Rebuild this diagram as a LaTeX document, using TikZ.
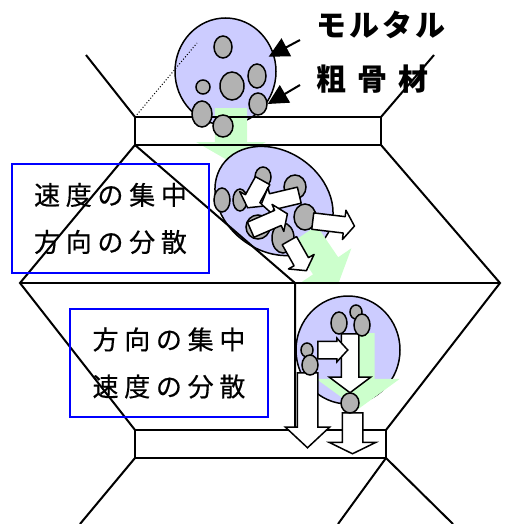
\documentclass[tikz,border=0pt]{standalone}
\usepackage{fontspec}
\usetikzlibrary{shapes.geometric,shapes.arrows,arrows.meta}
\newfontfamily\notefont{Noto Sans CJK JP}[LetterSpace=22,FakeBold=0.5]
\newfontfamily\tagfont{Noto Sans CJK JP}[LetterSpace=10]
\newfontfamily\tagwidefont{Noto Sans CJK JP}[LetterSpace=38]
\definecolor{mixfill}{RGB}{204,204,255}
\definecolor{grainfill}{RGB}{178,178,178}
\definecolor{flowgreen}{RGB}{204,255,204}
\begin{document}
\begin{tikzpicture}[x=1pt,y=-1pt]
		\tikzstyle{wall}=[line width=2pt]
		\tikzstyle{mix}=[draw,fill=mixfill,line width=1.5pt,ellipse,inner sep=0pt]
		\tikzstyle{grain}=[draw,fill=grainfill,line width=1.5pt,ellipse,inner sep=0pt]
		\tikzstyle{flow}=[single arrow,anchor=tail,inner sep=0pt,single arrow head indent=0pt]
		\tikzstyle{greenflow}=[flow,fill=flowgreen]
		\tikzstyle{whiteflow}=[flow,draw,fill=white,line width=1.5pt,line join=round,inner ysep=7.5pt,single arrow head extend=6.5pt,single arrow tip angle=110]
		\tikzstyle{downflow}=[flow,draw,fill=white,line width=1.5pt,rotate=-90]
		\tikzstyle{pointer}=[line width=2pt,-{Triangle[length=20pt,width=20pt]}]
		\tikzstyle{notebox}=[draw=blue,line width=1.5pt,align=center,inner sep=0pt,font=\notefont\fontsize{26pt}{47pt}\selectfont]
		\tikzstyle{tag}=[anchor=west,inner sep=0pt]

		\useasboundingbox (0,0) rectangle (520,524);

		% concrete lumps and the flow pushing them
		\node[mix,minimum width=101pt,minimum height=107pt] (mix1) at (225.5,71.5) {};
		\node[greenflow,rotate=-90,minimum height=54pt,inner ysep=16pt,single arrow head extend=18.5pt,single arrow tip angle=120] (push1) at (231,108) {};
		\node[mix,minimum width=126pt,minimum height=100pt,rotate=-35] (mix2) at (274,201) {};
		\node[greenflow,rotate=-55.8,minimum height=60.5pt,inner ysep=15pt,single arrow head extend=16pt,single arrow tip angle=109] (push2) at (304,234) {};
		\node[mix,minimum width=104pt,minimum height=108pt] (mix3) at (348,350) {};
		\node[greenflow,rotate=-90,minimum height=76pt,inner ysep=16.5pt,single arrow head extend=25pt,single arrow tip angle=108] (push3) at (358,333) {};

		% chute walls
		\node[wall,draw,minimum width=246pt,minimum height=28pt,inner sep=0pt,outer sep=0pt] (hopper) at (258,131) {};
		\node[wall,draw,minimum width=251pt,minimum height=28pt,inner sep=0pt,outer sep=0pt] (gate) at (260.5,444) {};
		\coordinate (feedL) at (86,55);
		\coordinate (feedR) at (434,55);
		\coordinate (waistL) at (20,283);
		\coordinate (waistR) at (500,283);
		\coordinate (rampend) at (295,283);
		\coordinate (outL) at (80,524);
		\coordinate (outR) at (338,524);
		\coordinate (outR2) at (453,524);
		\coordinate (dotend) at (197,43);

		\draw[wall] (feedL) -- (hopper.north west);
		\draw[wall] (feedR) -- (hopper.north east);
		\draw[wall] (hopper.south west) -- (waistL) -- (gate.north west);
		\draw[wall] (hopper.south east) -- (waistR) -- (gate.north east);
		\draw[wall] (waistL) -- (waistR);
		\draw[wall] (hopper.south west) -- (rampend) -- (rampend |- gate.north);
		\draw[wall] (gate.south west) -- (outL);
		\draw[wall] (gate.south east) -- (outR);
		\draw[wall] (gate.south east) -- (outR2);
		\draw[line width=1pt,dotted] (hopper.north west) -- (dotend);

		% coarse aggregate
		\foreach \x / \y / \a / \b / \z in {223/47/9/11/1,203/87/7/7/2,232/86/12/14/3,257/76/9/12/4,202/114/10/13/5,258/104/9/11/6,223/126/10/11/7} { \node[grain,minimum width=2*\a,minimum height=2*\b] (t\z) at (\x,\y) {};}
		\foreach \x / \y / \a / \b / \z in {222/200/8/12/1,240/200/7/11/2,263/177/8/10/3,295/187/11/12/4,305/217/11/13/5,258/227/12/12/6,283/238/11/15/7} { \node[grain,minimum width=2*\a,minimum height=2*\b] (m\z) at (\x,\y) {};}

		% scattered directions
		\node[whiteflow,rotate=-119,minimum height=31pt] (s1) at (263,180) {};
		\node[whiteflow,rotate=-166.7,minimum height=39pt] (s2) at (300,195) {};
		\node[whiteflow,rotate=23.4,minimum height=40pt] (s3) at (250,230) {};
		\node[whiteflow,rotate=-6.8,minimum height=42pt] (s4) at (312,221) {};
		\node[whiteflow,rotate=-60.5,minimum height=34.5pt] (s5) at (289,240) {};

		% aligned directions
		\node[downflow,minimum height=59pt,inner ysep=8pt,single arrow head extend=12pt,single arrow tip angle=106] (f1) at (350,333) {};
		\node[downflow,minimum height=75pt,inner ysep=9.5pt,single arrow head extend=12pt,single arrow tip angle=94] (f2) at (307.5,372) {};
		\node[downflow,minimum height=41pt,inner ysep=9.5pt,single arrow head extend=13pt,single arrow tip angle=128] (f3) at (352.5,412) {};
		\node[flow,draw,fill=white,line width=1.5pt,minimum height=30pt,inner ysep=8pt,single arrow head extend=3pt,single arrow tip angle=95] (f4) at (317,350) {};

		\foreach \x / \y / \a / \b / \z in {356/312/6/7/1,339/323/8/11/2,362/325/8/11/3,307/350/6/7/4,310/365/8/10/5,350/403/9/10/6} { \node[grain,minimum width=2*\a,minimum height=2*\b] (b\z) at (\x,\y) {};}

		% labels
		\node[tag,font=\tagfont\bfseries\fontsize{30pt}{30pt}\selectfont] (mortar) at (316,25) {モルタル};
		\node[tag,font=\tagwidefont\bfseries\fontsize{30pt}{30pt}\selectfont] (coarse) at (316,79) {粗骨材};
		\coordinate (mortartail) at (300,40);
		\coordinate (coarsetail) at (300,85);
		\draw[pointer,shorten >=-6pt] (mortartail) -- (mix1.20);
		\draw[pointer] (coarsetail) -- (t6.east);

		\node[notebox,minimum width=197pt,minimum height=109pt] (spread1) at (110.5,218.5) {速度の集中\\方向の分散};
		\node[notebox,minimum width=198pt,minimum height=108pt] (spread2) at (169,363) {方向の集中\\速度の分散};

	\end{tikzpicture}
\end{document}
